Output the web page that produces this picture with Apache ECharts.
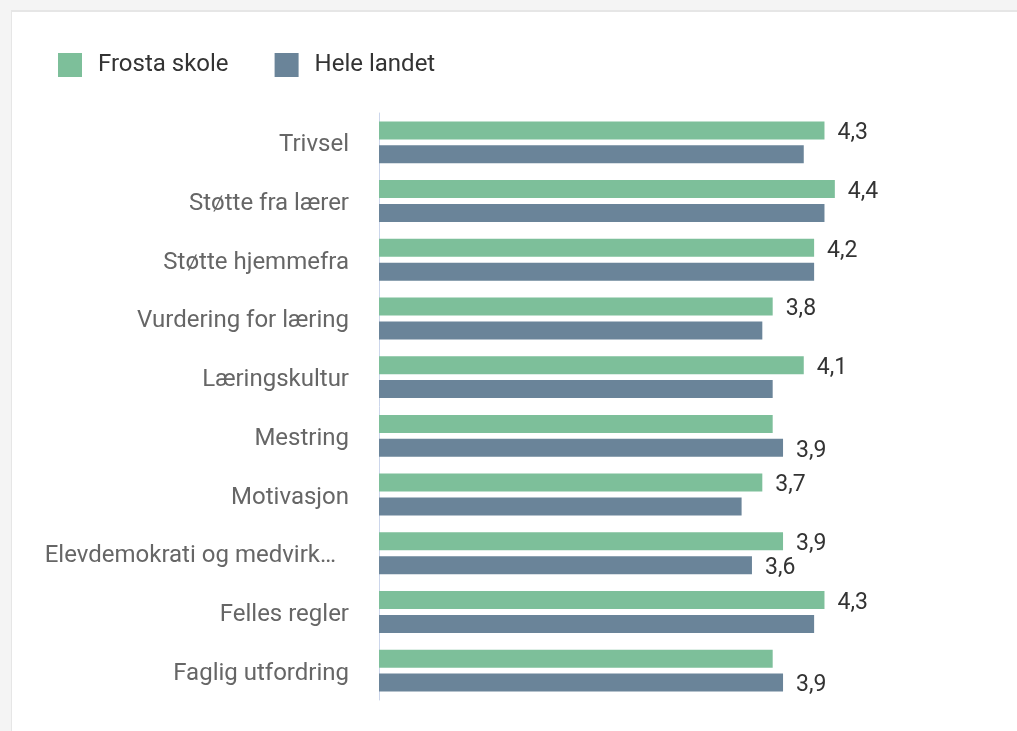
<!DOCTYPE html>
<html>
<head>
<meta charset="utf-8">
<script src="https://cdn.jsdelivr.net/npm/echarts@6/dist/echarts.min.js"></script>
<style>
html,body{margin:0;padding:0;width:1017px;height:731px;overflow:hidden;background:#f4f4f4;}
#card{position:absolute;left:11px;top:10px;right:-2px;bottom:-2px;background:#fff;border:1px solid #e6e6e6;border-width:2px 0 0 1px;}
#chart{position:absolute;left:0;top:0;width:1017px;height:731px;}
</style>
</head>
<body>
<div id="card"></div>
<div id="chart"></div>
<script>
const categories = ["Trivsel","Støtte fra lærer","Støtte hjemmefra","Vurdering for læring","Læringskultur","Mestring","Motivasjon","Elevdemokrati og medvirk…","Felles regler","Faglig utfordring"];
const seriesNames = ["Frosta skole","Hele landet"];
const frostaValues = [4.3,4.4,4.2,3.8,4.1,3.8,3.7,3.9,4.3,3.8];
const landetValues = [4.1,4.3,4.2,3.7,3.8,3.9,3.5,3.6,4.2,3.9];
const frostaShowLabel = [true,true,true,true,true,false,true,true,true,false];
const landetShowLabel = [false,false,false,false,false,true,false,true,false,true];

function toData(vals, flags){
  return vals.map((v,i)=>({value:v,label:{show:flags[i]}}));
}
const labelCfg = {
  position:'right', distance:13, color:'#333', fontSize:23,
  fontFamily:'Roboto', offset:[0,3],
  formatter:p=>String(p.value.toFixed(1)).replace('.',',')
};
const chart = echarts.init(document.getElementById('chart'));
chart.setOption({
  animation:false,
  backgroundColor:'transparent',
  legend:{
    left:53, top:48, itemWidth:24, itemHeight:24, itemGap:46, icon:'rect',
    textStyle:{fontSize:24, color:'#333', fontFamily:'Roboto', padding:[4,0,0,11]},
    data:seriesNames
  },
  grid:{left:379, right:120, top:113, bottom:31, containLabel:false},
  xAxis:{type:'value', min:0, max:5, show:false},
  yAxis:{
    type:'category', inverse:true, data:categories,
    axisLine:{show:true, lineStyle:{color:'#ccd6eb', width:1}},
    axisTick:{show:false},
    axisLabel:{
      margin:30, color:'#666', fontSize:24, fontFamily:'Roboto', padding:[6,0,0,0],
      formatter:v=> v.endsWith('…') ? '{t|'+v+'}' : v,
      rich:{t:{fontSize:24, color:'#666', fontFamily:'Roboto', padding:[0,13,0,0]}}
    }
  },
  series:[
    {name:seriesNames[0], type:'bar', data:toData(frostaValues,frostaShowLabel),
     itemStyle:{color:'#7dbf9a'}, barWidth:18, barGap:'33%', barCategoryGap:'28%', label:labelCfg},
    {name:seriesNames[1], type:'bar', data:toData(landetValues,landetShowLabel),
     itemStyle:{color:'#6a8499'}, barWidth:18, barGap:'33%', label:labelCfg}
  ]
});
</script>
</body>
</html>
